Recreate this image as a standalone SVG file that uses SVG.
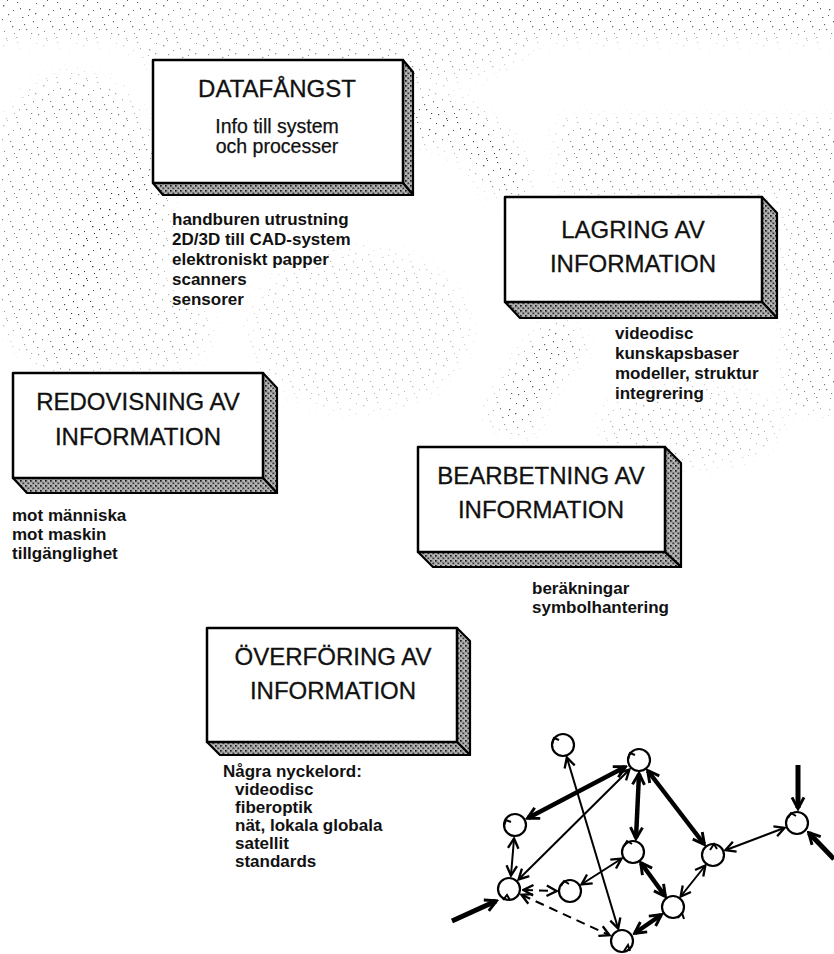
<svg xmlns="http://www.w3.org/2000/svg" width="834" height="954" viewBox="0 0 834 954">
<defs>
  <pattern id="stip" width="5" height="5" patternUnits="userSpaceOnUse">
    <rect width="5" height="5" fill="#a0a0a0"/>
    <rect x="0" y="0" width="1.6" height="1.6" fill="#111"/>
    <rect x="2.5" y="2.6" width="1.6" height="1.4" fill="#333"/>
    <rect x="3.6" y="0.4" width="1" height="1" fill="#fff"/>
    <rect x="0.6" y="3.4" width="1" height="1" fill="#eee"/>
  </pattern>
  <pattern id="spk" width="40" height="40" patternUnits="userSpaceOnUse">
    <g fill="#333">
      <rect x="3" y="5" width="1.4" height="1.4"/><rect x="17" y="2" width="1.2" height="1"/>
      <rect x="29" y="9" width="1.3" height="1.3"/><rect x="36" y="3" width="1" height="1"/>
      <rect x="8" y="14" width="1.2" height="1.2"/><rect x="22" y="17" width="1.4" height="1"/>
      <rect x="33" y="21" width="1" height="1.3"/><rect x="12" y="26" width="1.3" height="1.3"/>
      <rect x="4" y="31" width="1" height="1"/><rect x="26" y="29" width="1.3" height="1.2"/>
      <rect x="38" y="34" width="1.2" height="1.2"/><rect x="16" y="37" width="1.3" height="1"/>
      <rect x="30" y="38" width="1" height="1"/><rect x="20" y="8" width="1" height="1.3"/>
      <rect x="10" y="21" width="1.2" height="1"/><rect x="35" y="13" width="1.3" height="1.3"/>
      <rect x="2" y="19" width="1" height="1.2"/><rect x="24" y="24" width="1.2" height="1.2"/>
      <rect x="14" y="33" width="1" height="1"/><rect x="37" y="27" width="1.2" height="1"/>
      <rect x="6" y="38" width="1.2" height="1.2"/><rect x="28" y="15" width="1" height="1"/>
      <rect x="13" y="10" width="1" height="1"/><rect x="31" y="33" width="1.2" height="1"/>
      <rect x="19" y="29" width="1" height="1.2"/><rect x="7" y="0" width="1" height="1"/>
    </g>
  </pattern>
  <filter id="soft" x="-20%" y="-20%" width="140%" height="140%"><feGaussianBlur stdDeviation="9"/></filter>
  <mask id="bgmask" maskUnits="userSpaceOnUse" x="0" y="0" width="834" height="954">
    <g filter="url(#soft)">
      <rect x="-30" y="-30" width="894" height="68" fill="#ccc"/>
      <ellipse cx="75" cy="225" rx="95" ry="150" fill="#aaa"/>
      <path d="M92,345 Q62,260 118,200" fill="none" stroke="#fff" stroke-width="44"/>
      <path d="M88,202 L132,160 L160,216 Z" fill="#fff"/>
      <path d="M410,118 Q478,115 508,182" fill="none" stroke="#eee" stroke-width="44"/>
      <path d="M488,178 L528,160 L522,205 Z" fill="#eee"/>
      <rect x="560" y="120" width="300" height="75" fill="#aaa"/>
      <rect x="785" y="190" width="80" height="220" fill="#aaa"/>
      <path d="M508,428 Q528,372 572,332" fill="none" stroke="#ddd" stroke-width="44"/>
      <ellipse cx="690" cy="425" rx="90" ry="40" fill="#777"/>
      <ellipse cx="360" cy="330" rx="110" ry="80" fill="#666"/>
      <ellipse cx="330" cy="40" rx="200" ry="50" fill="#888"/>
      <ellipse cx="150" cy="330" rx="60" ry="40" fill="#888"/>
    </g>
  </mask>
  <marker id="ah" markerUnits="userSpaceOnUse" markerWidth="14" markerHeight="14" viewBox="0 0 12 12" refX="10" refY="6" orient="auto-start-reverse">
    <path d="M2,1.5 L10.5,6 L2,10.5" fill="none" stroke="#000" stroke-width="2"/>
  </marker>
  <marker id="ahb" markerUnits="userSpaceOnUse" markerWidth="16" markerHeight="16" viewBox="0 0 12 12" refX="10" refY="6" orient="auto-start-reverse">
    <path d="M2,1.5 L10.5,6 L2,10.5" fill="none" stroke="#000" stroke-width="2.2"/>
  </marker>
  <style>
    .front{fill:#fff;stroke:#000;stroke-width:2.5;stroke-linejoin:round}
    .face{fill:url(#stip);stroke:#000;stroke-width:2.2;stroke-linejoin:round}
    .t{font-family:"Liberation Sans",Arial,sans-serif;font-size:24px;text-anchor:middle;fill:#111;stroke:#111;stroke-width:0.3}
    .s{font-family:"Liberation Sans",Arial,sans-serif;font-size:19.5px;text-anchor:middle;fill:#111;stroke:#111;stroke-width:0.25}
    .l{font-family:"Liberation Sans",Arial,sans-serif;font-size:17px;font-weight:bold;fill:#111}
    .node circle{fill:#fff;stroke:#000;stroke-width:2.2}
    .hook{fill:none;stroke:#000;stroke-width:2}
    .thin{fill:none;stroke:#000;stroke-width:2;marker-start:url(#ah);marker-end:url(#ah)}
    .thick{fill:none;stroke:#000;stroke-width:4.5;marker-start:url(#ahb);marker-end:url(#ahb)}
    .in{fill:none;stroke:#000;stroke-width:5;marker-end:url(#ahb)}
    .dash{stroke-dasharray:9 6}
  </style>
</defs>

<rect width="834" height="954" fill="#fff"/>

<g id="cycle-arrows">
  <rect width="834" height="954" fill="url(#spk)" mask="url(#bgmask)"/>
</g>

<g id="datafangst">
  <polygon class="face" points="403,60 413,72 413,195 403,183"/>
  <polygon class="face" points="153,183 403,183 413,195 163,195"/>
  <rect class="front" x="153" y="60" width="250" height="123"/>
  <text class="t" x="277" y="97" font-size="23">DATAFÅNGST</text>
  <text class="s" x="277" y="133">Info till system</text>
  <text class="s" x="277" y="153">och processer</text>
  <text class="l" x="172" y="225">handburen utrustning</text>
  <text class="l" x="172" y="245">2D/3D till CAD-system</text>
  <text class="l" x="172" y="265">elektroniskt papper</text>
  <text class="l" x="172" y="285">scanners</text>
  <text class="l" x="172" y="305">sensorer</text>
</g>

<g id="lagring">
  <polygon class="face" points="762,197 777,213 777,318 762,302"/>
  <polygon class="face" points="505,302 762,302 777,318 520,318"/>
  <rect class="front" x="505" y="197" width="257" height="105"/>
  <text class="t" x="633" y="238">LAGRING AV</text>
  <text class="t" x="633" y="272">INFORMATION</text>
  <text class="l" x="615" y="339">videodisc</text>
  <text class="l" x="615" y="359">kunskapsbaser</text>
  <text class="l" x="615" y="379">modeller, struktur</text>
  <text class="l" x="615" y="399">integrering</text>
</g>

<g id="redovisning">
  <polygon class="face" points="263,373 277,388 277,493 263,478"/>
  <polygon class="face" points="13,478 263,478 277,493 27,493"/>
  <rect class="front" x="13" y="373" width="250" height="105"/>
  <text class="t" x="138" y="410">REDOVISNING AV</text>
  <text class="t" x="138" y="445">INFORMATION</text>
  <text class="l" x="12" y="521">mot människa</text>
  <text class="l" x="12" y="540">mot maskin</text>
  <text class="l" x="12" y="559">tillgänglighet</text>
</g>

<g id="bearbetning">
  <polygon class="face" points="665,447 681,463 681,567 665,552"/>
  <polygon class="face" points="418,552 665,552 681,567 433,567"/>
  <rect class="front" x="418" y="447" width="247" height="105"/>
  <text class="t" x="541" y="484">BEARBETNING AV</text>
  <text class="t" x="541" y="518">INFORMATION</text>
  <text class="l" x="532" y="594">beräkningar</text>
  <text class="l" x="532" y="613">symbolhantering</text>
</g>

<g id="overforing">
  <polygon class="face" points="457,628 470,641 470,755 457,742"/>
  <polygon class="face" points="207,742 457,742 470,755 220,755"/>
  <rect class="front" x="207" y="628" width="250" height="114"/>
  <text class="t" x="333" y="665">ÖVERFÖRING AV</text>
  <text class="t" x="333" y="699">INFORMATION</text>
  <text class="l" x="223" y="777">Några nyckelord:</text>
  <text class="l" x="235" y="795">videodisc</text>
  <text class="l" x="235" y="813">fiberoptik</text>
  <text class="l" x="235" y="831">nät, lokala globala</text>
  <text class="l" x="235" y="849">satellit</text>
  <text class="l" x="235" y="867">standards</text>
</g>

<g id="network-connectors">
  <line class="thick" x1="528" y1="818" x2="625" y2="767"/>
  <line class="thin" x1="567" y1="758" x2="618" y2="928"/>
  <line class="thin" x1="629" y1="770" x2="519" y2="879"/>
  <line class="thick" x1="639" y1="774" x2="636" y2="838"/>
  <line class="thick" x1="648" y1="771" x2="704" y2="844"/>
  <line class="thin" x1="726" y1="850" x2="784" y2="828"/>
  <line class="in" x1="798" y1="765" x2="798" y2="808"/>
  <line class="in" x1="834" y1="859" x2="809" y2="833"/>
  <line class="thin" x1="514" y1="839" x2="511" y2="875"/>
  <line class="thin dash" x1="524" y1="890" x2="556" y2="891"/>
  <line class="thin dash" x1="522" y1="895" x2="609" y2="935"/>
  <line class="thin" x1="582" y1="884" x2="621" y2="859"/>
  <line class="thick" x1="641" y1="863" x2="665" y2="896"/>
  <line class="thin" x1="681" y1="896" x2="705" y2="866"/>
  <line class="thick" x1="635" y1="933" x2="661" y2="915"/>
  <line class="in" x1="452" y1="921" x2="496" y2="901"/>
</g>

<g id="n1" class="node"><circle cx="563" cy="745" r="11"/><path class="hook" d="M552,744 l2,-6 l5,2"/></g>
<g id="n2" class="node"><circle cx="639" cy="760" r="11"/><path class="hook" d="M628,759 l2,-6 l5,2"/></g>
<g id="n3" class="node"><circle cx="515" cy="825" r="11"/><path class="hook" d="M504,826 l2,-6 l5,2"/></g>
<g id="n4" class="node"><circle cx="633" cy="852" r="11"/><path class="hook" d="M624,846 l3,-5 l5,3"/></g>
<g id="n5" class="node"><circle cx="713" cy="855" r="11"/><path class="hook" d="M710,850 l4,-6 l3,5"/></g>
<g id="n6" class="node"><circle cx="797" cy="823" r="11"/><path class="hook" d="M788,818 l3,-5 l5,3"/></g>
<g id="n7" class="node"><circle cx="509" cy="889" r="11"/><path class="hook" d="M503,900 l4,-5 l3,5"/></g>
<g id="n8" class="node"><circle cx="570" cy="891" r="11"/><path class="hook" d="M561,886 l3,-5 l5,3"/></g>
<g id="n9" class="node"><circle cx="673" cy="907" r="11"/><path class="hook" d="M678,918 l4,-5 l2,6"/></g>
<g id="n10" class="node"><circle cx="622" cy="941" r="11"/><path class="hook" d="M624,951 l4,-6 l2,6"/></g>
</svg>
